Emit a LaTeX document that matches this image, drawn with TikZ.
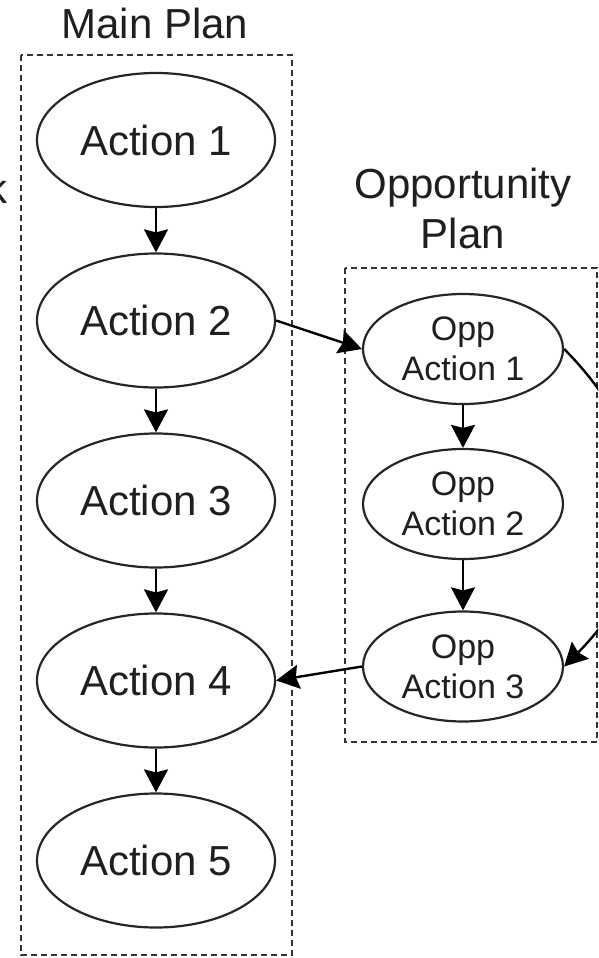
\documentclass[tikz,border=0pt]{standalone}
\usepackage{fontspec}
\setmainfont{Liberation Sans}
\usetikzlibrary{shapes.geometric,arrows.meta,calc}
\begin{document}
\begin{tikzpicture}[x=1pt,y=-1pt,
  act/.style={ellipse,draw=black!85,line width=2.2pt,minimum width=238pt,minimum height=134pt,inner sep=0pt,font=\fontsize{42}{50}\selectfont,text=black!88},
  opp/.style={ellipse,draw=black!85,line width=2.2pt,minimum width=200pt,minimum height=110pt,inner sep=0pt,font=\fontsize{34}{40}\selectfont,text=black!88,align=center},
  plan/.style={draw=black!80,line width=2.2pt,dash pattern=on 6pt off 4pt},
  lbl/.style={font=\fontsize{42}{50}\selectfont,text=black!88,inner sep=0pt},
  conn/.style={line width=2.4pt,-{Stealth[length=23pt,width=24pt,inset=3pt]}}]
\useasboundingbox (0,0) rectangle (598,958);
\begin{scope}
\clip (0,0) rectangle (598,958);
\draw[plan] (21,55) rectangle (292,955);
\draw[plan] (345,268) rectangle (597,742);
\node[lbl,anchor=base] (mainlbl) at (155,39) {Main Plan};
\node[lbl,anchor=base,align=center] (opplbl) at (463,248) {Opportunity\\Plan};
\node[lbl,anchor=base east] (kk) at (8,203) {k};
\node[act] (a1) at (156,140) {Action 1};
\node[act] (a2) at (156,320.5) {Action 2};
\node[act] (a3) at (156,500.5) {Action 3};
\node[act] (a4) at (156,680.5) {Action 4};
\node[act] (a5) at (156,860.5) {Action 5};
\node[opp] (o1) at (463,349) {Opp\\Action 1};
\node[opp] (o2) at (463,504) {Opp\\Action 2};
\node[opp] (o3) at (463,666.5) {Opp\\Action 3};
\draw[conn] (a1) -- (a2);
\draw[conn] (a2) -- (a3);
\draw[conn] (a3) -- (a4);
\draw[conn] (a4) -- (a5);
\draw[conn] (o1) -- (o2);
\draw[conn] (o2) -- (o3);
\draw[conn] (a2.east) -- (o1.west);
\draw[conn] (o3.west) -- (a4.east);
\draw[conn] (o1.east) .. controls ($(o1.east)+(100,100)$) and ($(o3.east)+(100,-100)$) .. (o3.east);
\end{scope}
\end{tikzpicture}
\end{document}
